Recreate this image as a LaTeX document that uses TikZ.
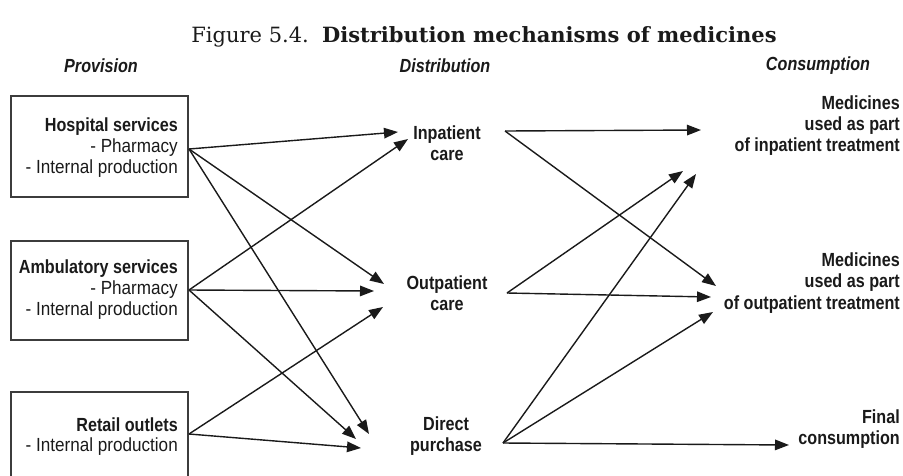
\documentclass[tikz,border=0pt]{standalone}
\usepackage{fontspec}
\setmainfont{Liberation Sans}[FakeStretch=0.9,BoldFeatures={FakeStretch=0.85},BoldItalicFeatures={FakeStretch=0.85}]
\newfontfamily\titlefont{DejaVu Serif}
\usetikzlibrary{arrows.meta}
\definecolor{ink}{HTML}{1A1A1A}
\tikzset{
  conn/.style={draw=ink, line width=1.4pt, -{Triangle[length=14pt,width=10.5pt]}},
  provbox/.style={draw=ink!85, line width=1.6pt},
  boxtxt/.style={anchor=east, inner sep=0pt, text=ink, font=\fontsize{19}{20}\selectfont},
  midtxt/.style={align=center, inner sep=0pt, text=ink, font=\fontsize{19}{21}\selectfont\bfseries},
  righttxt/.style={align=right, anchor=east, inner sep=0pt, text=ink, font=\fontsize{19}{21.3}\selectfont\bfseries},
  headtxt/.style={inner sep=0pt, text=ink, font=\fontsize{19}{20}\selectfont\bfseries\itshape},
}
\begin{document}
\begin{tikzpicture}[x=1pt,y=-1pt]
\useasboundingbox (0,0) rectangle (903,475);
\clip (0,0) rectangle (903,475);
% title
\node[inner sep=0pt, text=ink] (title) at (484,37) {\titlefont\fontsize{21}{24}\selectfont Figure 5.4.\ \ \textbf{Distribution mechanisms of medicines}};
% headers
\node[headtxt] (hprov) at (101,66) {Provision};
\node[headtxt] (hdist) at (445,66) {Distribution};
\node[headtxt] (hcons) at (818,66) {Consumption};
% provision boxes
\draw[provbox] (11,96) rectangle (188,197);
\draw[provbox] (11,241) rectangle (188,340);
\draw[provbox] (11,392) rectangle (188,490);
\node[boxtxt] (h1) at (178,127) {\textbf{Hospital services}};
\node[boxtxt] (h2) at (178,148) {- Pharmacy};
\node[boxtxt] (h3) at (178,169) {- Internal production};
\node[boxtxt] (a1) at (178,269) {\textbf{Ambulatory services}};
\node[boxtxt] (a2) at (178,290) {- Pharmacy};
\node[boxtxt] (a3) at (178,311) {- Internal production};
\node[boxtxt] (r1) at (178,425) {\textbf{Retail outlets}};
\node[boxtxt] (r2) at (178,447) {- Internal production};
% distribution
\node[midtxt] (inp) at (447,143) {Inpatient\\care};
\node[midtxt] (outp) at (447,293.5) {Outpatient\\care};
\node[midtxt] (dir) at (446,436) {Direct\\purchase};
% consumption
\node[righttxt] (cin) at (900,125.5) {Medicines\\used as part\\of inpatient treatment};
\node[righttxt] (cout) at (900,283) {Medicines\\used as part\\of outpatient treatment};
\node[righttxt] (cfin) at (900,429) {Final\\consumption};
% connector end points
\coordinate (hs) at (189,149);
\coordinate (as) at (189,290);
\coordinate (rs) at (189,434);
\coordinate (is) at (505,131);
\coordinate (os) at (507,293);
\coordinate (ds) at (503,443);
\coordinate (iH) at (398,132);
\coordinate (iA) at (408,139);
\coordinate (oH) at (384,284);
\coordinate (oA) at (374,291);
\coordinate (oR) at (383,307);
\coordinate (dH) at (369,434);
\coordinate (dA) at (356,439);
\coordinate (dR) at (361,448);
\coordinate (ciI) at (701,130);
\coordinate (ciO) at (683,171);
\coordinate (ciD) at (696,174);
\coordinate (coI) at (716,286);
\coordinate (coO) at (711,297);
\coordinate (coD) at (713,312);
\coordinate (cfD) at (789,445);
% connectors
\draw[conn] (hs) -- (iH);
\draw[conn] (hs) -- (oH);
\draw[conn] (hs) -- (dH);
\draw[conn] (as) -- (iA);
\draw[conn] (as) -- (oA);
\draw[conn] (as) -- (dA);
\draw[conn] (rs) -- (oR);
\draw[conn] (rs) -- (dR);
\draw[conn] (is) -- (ciI);
\draw[conn] (is) -- (coI);
\draw[conn] (os) -- (ciO);
\draw[conn] (os) -- (coO);
\draw[conn] (ds) -- (ciD);
\draw[conn] (ds) -- (coD);
\draw[conn] (ds) -- (cfD);
\end{tikzpicture}
\end{document}
